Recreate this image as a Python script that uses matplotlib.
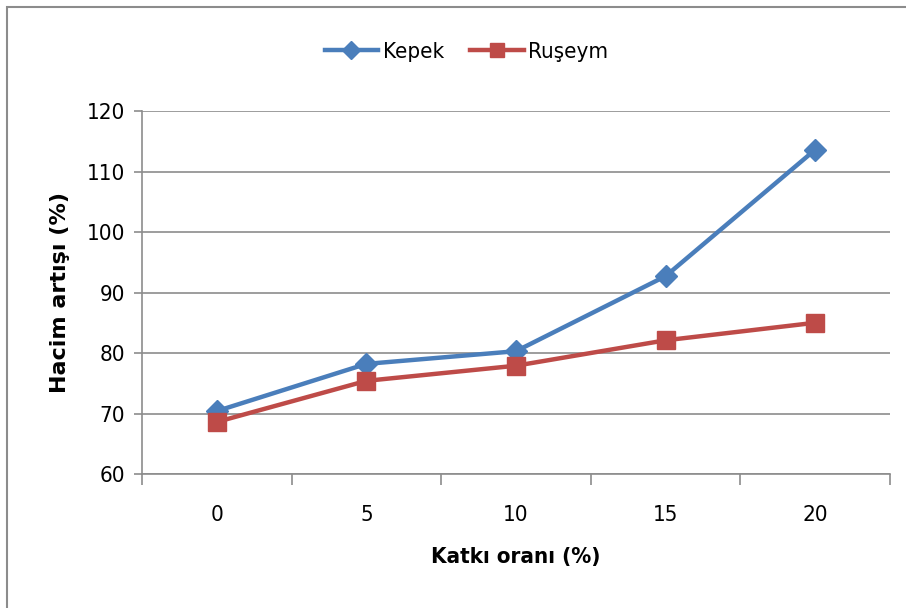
import matplotlib.pyplot as plt
from matplotlib.patches import Rectangle

# values
categories = ['0', '5', '10', '15', '20']
kepek = [70.4, 78.2, 80.3, 92.7, 113.6]
ruseym = [68.6, 75.4, 77.9, 82.1, 85.0]

narrow = ['Liberation Sans Narrow', 'DejaVu Sans']

fig = plt.figure(figsize=(9.06, 6.08), dpi=100)
ax = fig.add_axes([0.1567, 0.2204, 0.8256, 0.597])

# outer chart border
fig.patches.append(Rectangle((7 / 906, -0.01), 1.02, (601 / 608) + 0.01,
                             transform=fig.transFigure, fill=False,
                             edgecolor='#8c8c8c', linewidth=1.5))

x = list(range(len(categories)))
ax.plot(x, kepek, color='#4a7ebb', lw=3.2, marker='D', markersize=11,
        label='Kepek', zorder=3)
ax.plot(x, ruseym, color='#be4b48', lw=3.2, marker='s', markersize=13,
        label='Ruşeym', zorder=3)

ax.set_ylim(60, 120)
ax.set_yticks(range(60, 121, 10))
ax.set_xlim(-0.5, len(categories) - 0.5)
ax.set_xticks(x)
ax.set_xticklabels(categories)
ax.set_xticks([i - 0.5 for i in range(len(categories) + 1)], minor=True)

ax.grid(axis='y', color='#8c8c8c', lw=1.2)
ax.set_axisbelow(True)
for s in ['top', 'right']:
    ax.spines[s].set_visible(False)
ax.spines['left'].set_color('#8c8c8c')
ax.spines['bottom'].set_color('#8c8c8c')
ax.spines['left'].set_linewidth(1.2)
ax.spines['bottom'].set_linewidth(1.2)

ax.tick_params(axis='x', which='major', length=0, pad=22)
ax.tick_params(axis='x', which='minor', length=8, color='#8c8c8c', width=1.2)
ax.tick_params(axis='y', length=6, color='#8c8c8c', width=1.2, pad=6)
for lab in ax.get_xticklabels() + ax.get_yticklabels():
    lab.set_family(narrow)
    lab.set_stretch('condensed')
    lab.set_fontsize(16)

ax.set_xlabel('Katkı oranı (%)', family=narrow, fontsize=16, stretch='condensed',
              fontweight='bold', labelpad=16)
ax.set_ylabel('Hacim artışı (%)', family='DejaVu Sans', fontsize=16,
              fontweight='bold', labelpad=12)

leg = fig.legend(loc='center', bbox_to_anchor=(0.515, 0.915), ncol=2,
                 frameon=False,
                 prop={'family': narrow, 'size': 16, 'stretch': 'condensed'},
                 handlelength=2.4, handletextpad=0.2, columnspacing=1.2,
                 markerscale=0.8)

fig.savefig('out.png', dpi=100)
